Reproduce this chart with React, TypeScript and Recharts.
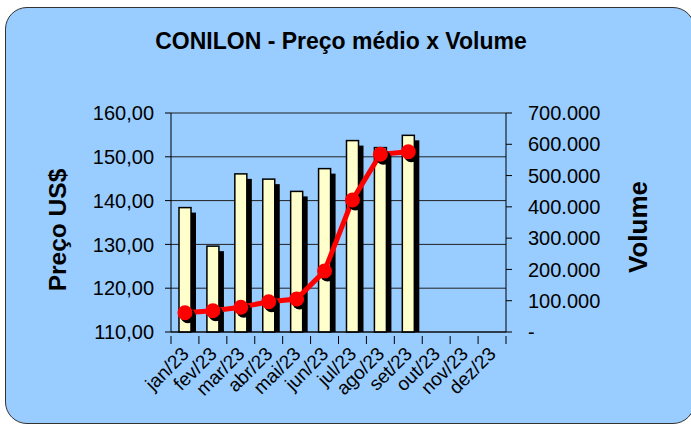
import { ComposedChart, Bar, Line, XAxis, YAxis, CartesianGrid } from "recharts";

const meses = ["jan/23", "fev/23", "mar/23", "abr/23", "mai/23", "jun/23", "jul/23", "ago/23", "set/23", "out/23", "nov/23", "dez/23"];
const precos = [138.4, 129.6, 146.1, 144.9, 142.1, 147.3, 153.7, 152.1, 154.9, null, null, null];
const volumes = [61700, 68000, 79000, 96900, 105500, 195000, 422000, 568000, 576000, null, null, null];
const precoTicks = [110, 120, 130, 140, 150, 160];
const volumeTicks = [0, 100000, 200000, 300000, 400000, 500000, 600000, 700000];

const data = meses.map((mes, i) => ({ mes, preco: precos[i], volume: volumes[i] }));

const font = "Arial, 'Liberation Sans', sans-serif";
const BAND = 335 / 12;

const fmtPreco = (v: number) => v.toFixed(2).replace(".", ",");
const fmtVolume = (v: number) => (v === 0 ? "-" : v.toLocaleString("pt-BR"));

function Bar3D(props: any) {
  const { x, y, width, height } = props;
  if (height == null || !(height > 0)) return null;
  return (
    <g>
      <rect x={x + 5} y={y + 5} width={width} height={Math.max(0, height - 5)} fill="#000" />
      <rect x={x} y={y} width={width} height={height} fill="#FFFFCC" stroke="#000" strokeWidth={1.5} />
    </g>
  );
}

function Dot3D(props: any) {
  const { cx, cy, index } = props;
  if (cx == null || cy == null || volumes[index] == null) return <g key={index} />;
  return (
    <g key={index}>
      <circle cx={cx + 3} cy={cy + 3} r={7.5} fill="#000" />
      <circle cx={cx} cy={cy} r={7.5} fill="#FF0000" />
    </g>
  );
}

function MesTick(props: any) {
  const { x, y, payload, index } = props;
  const last = index === meses.length - 1;
  return (
    <g>
      <line x1={x - BAND / 2} x2={x - BAND / 2} y1={y - 4} y2={y + 4} stroke="#000" />
      {last ? <line x1={x + BAND / 2} x2={x + BAND / 2} y1={y - 4} y2={y + 4} stroke="#000" /> : null}
      <text
        x={x + 5}
        y={y + 15}
        transform={`rotate(-45, ${x + 5}, ${y + 15})`}
        textAnchor="end"
        fontSize={19}
        fontFamily={font}
        fill="#000"
      >
        {payload.value}
      </text>
    </g>
  );
}

export default function App() {
  return (
    <div style={{ position: "absolute", left: 0, top: 0, width: 691, height: 425, overflow: "hidden", background: "#fff", fontFamily: font }}>
      <div
        style={{
          position: "absolute",
          left: 5,
          top: 7,
          width: 690,
          height: 417,
          boxSizing: "border-box",
          border: "1.5px solid #333",
          borderRadius: 22,
          background: "#99CCFF",
        }}
      />
      <div style={{ position: "absolute", left: 0, top: 30, width: 682, textAlign: "center", fontSize: 23, fontWeight: "bold", lineHeight: 1 }}>
        CONILON - Preço médio x Volume
      </div>
      <div
        style={{
          position: "absolute",
          left: 58,
          top: 230,
          transform: "translate(-50%, -50%) rotate(-90deg)",
          whiteSpace: "nowrap",
          fontSize: 24.5,
          fontWeight: "bold",
        }}
      >
        Preço US$
      </div>
      <div
        style={{
          position: "absolute",
          left: 638,
          top: 227,
          transform: "translate(-50%, -50%) rotate(-90deg)",
          whiteSpace: "nowrap",
          fontSize: 26,
          fontWeight: "bold",
        }}
      >
        Volume
      </div>
      <div style={{ position: "absolute", left: 0, top: 0 }}>
        <ComposedChart width={691} height={425} data={data} margin={{ top: 113, right: 85, bottom: 33, left: 111 }}>
          <CartesianGrid yAxisId="left" vertical={false} stroke="#222" strokeWidth={1} />
          <XAxis
            dataKey="mes"
            interval={0}
            height={60}
            tickLine={false}
            axisLine={{ stroke: "#000" }}
            tick={<MesTick />}
          />
          <YAxis
            yAxisId="left"
            domain={[110, 160]}
            ticks={precoTicks}
            width={60}
            tickFormatter={fmtPreco}
            tickSize={6}
            tickMargin={11}
            axisLine={{ stroke: "#000" }}
            tickLine={{ stroke: "#000" }}
            tick={{ fill: "#000", fontSize: 20, fontFamily: font }}
          />
          <YAxis
            yAxisId="right"
            orientation="right"
            domain={[0, 700000]}
            ticks={volumeTicks}
            width={100}
            tickFormatter={fmtVolume}
            tickSize={6}
            tickMargin={16}
            axisLine={{ stroke: "#000" }}
            tickLine={{ stroke: "#000" }}
            tick={{ fill: "#000", fontSize: 20, fontFamily: font, textAnchor: "start" }}
          />
          <Bar yAxisId="left" dataKey="preco" barSize={12} shape={<Bar3D />} isAnimationActive={false} />
          <Line
            yAxisId="right"
            dataKey="volume"
            stroke="#FF0000"
            strokeWidth={5}
            dot={<Dot3D />}
            activeDot={false}
            isAnimationActive={false}
          />
        </ComposedChart>
      </div>
    </div>
  );
}
